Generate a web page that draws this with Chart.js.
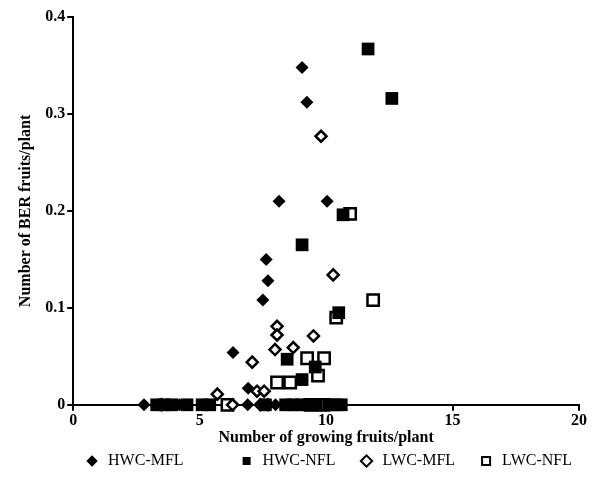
<!DOCTYPE html>
<html>
<head>
<meta charset="utf-8">
<script src="https://cdn.jsdelivr.net/npm/chart.js@4"></script>
<style>
    html, body { margin: 0; padding: 0; background: #fff; }
    #wrap { width: 598px; height: 479px; }
</style>
</head>
<body>
<div id="wrap"><canvas id="berChart"></canvas></div>
<script>
// growing fruits (x) vs BER fruits (y), per treatment
const hwcMflX = [2.8, 4.2, 6.9, 7.5, 8.0, 9.5, 9.05, 9.24, 8.14, 10.04, 7.63, 7.7, 7.5, 6.32, 6.92];
const hwcMflY = [0, 0, 0, 0, 0, 0, 0.348, 0.312, 0.210, 0.210, 0.150, 0.128, 0.108, 0.054, 0.017];

const hwcNflX = [3.3, 3.6, 3.9, 4.5, 5.1, 5.4, 7.6, 8.4, 8.7, 9.0, 9.3, 9.6, 10.1, 10.4, 10.6, 11.66, 12.6, 9.05, 10.67, 10.5, 8.46, 9.57, 9.05];
const hwcNflY = [0, 0, 0, 0, 0, 0, 0, 0, 0, 0, 0, 0, 0, 0, 0, 0.367, 0.316, 0.165, 0.196, 0.095, 0.047, 0.039, 0.026];

const lwcMflX = [3.5, 6.3, 7.4, 7.7, 9.8, 10.28, 8.06, 8.06, 9.5, 7.98, 8.7, 7.08, 5.7, 7.27, 7.55];
const lwcMflY = [0, 0, 0, 0, 0.277, 0.134, 0.081, 0.072, 0.071, 0.057, 0.059, 0.044, 0.011, 0.014, 0.014];

const lwcNflX = [6.1, 9.4, 9.9, 10.95, 11.86, 10.4, 8.06, 8.58, 9.25, 9.92, 9.68];
const lwcNflY = [0, 0, 0, 0.197, 0.108, 0.09, 0.023, 0.023, 0.048, 0.048, 0.030];

const xTicks = [0, 5, 10, 15, 20];
const yTicks = [0, 0.1, 0.2, 0.3, 0.4];

function toPoints(xs, ys) {
    return xs.map((x, i) => ({ x: x, y: ys[i] }));
}

const serif = "'Liberation Serif', 'DejaVu Serif', serif";

// extra gap after each legend entry (the first gap is wider in the original)
const legendGaps = ["\u2003\u2003\u2003", "\u2002\u2002", "\u2002\u2002", ""];

const ctx = document.getElementById("berChart");

new Chart(ctx, {
    type: "scatter",
    data: {
        datasets: [
            {
                label: "HWC-MFL",
                data: toPoints(hwcMflX, hwcMflY),
                pointStyle: "rectRot",
                pointRadius: 6.5,
                backgroundColor: "#000",
                borderColor: "#000",
                borderWidth: 0,
                clip: false
            },
            {
                label: "HWC-NFL",
                data: toPoints(hwcNflX, hwcNflY),
                pointStyle: "rect",
                pointRadius: 9,
                backgroundColor: "#000",
                borderColor: "#000",
                borderWidth: 0,
                clip: false
            },
            {
                label: "LWC-MFL",
                data: toPoints(lwcMflX, lwcMflY),
                pointStyle: "rectRot",
                pointRadius: 5.5,
                backgroundColor: "#fff",
                borderColor: "#000",
                borderWidth: 2.5,
                clip: false
            },
            {
                label: "LWC-NFL",
                data: toPoints(lwcNflX, lwcNflY),
                pointStyle: "rect",
                pointRadius: 8,
                backgroundColor: "#fff",
                borderColor: "#000",
                borderWidth: 2.5,
                clip: false
            }
        ]
    },
    options: {
        responsive: true,
        maintainAspectRatio: false,
        animation: false,
        layout: {
            padding: { top: 17, right: 19, left: 16, bottom: 0 }
        },
        plugins: {
            legend: {
                display: true,
                position: "bottom",
                align: "end",
                labels: {
                    usePointStyle: true,
                    boxHeight: 8,
                    color: "#000",
                    padding: 7,
                    font: { family: serif, size: 16 },
                    generateLabels: (chart) => {
                        const items = Chart.defaults.plugins.legend.labels.generateLabels(chart);
                        items.forEach((it, i) => {
                            it.lineWidth = Math.min(it.lineWidth, 2);
                            it.text = it.text + legendGaps[i];
                        });
                        return items;
                    }
                }
            },
            tooltip: { enabled: false }
        },
        scales: {
            x: {
                type: "linear",
                min: 0,
                max: 20,
                afterBuildTicks: (axis) => {
                    axis.ticks = xTicks.map(v => ({ value: v }));
                },
                ticks: {
                    color: "#000",
                    padding: 0,
                    font: { family: serif, size: 16, weight: "bold" }
                },
                grid: {
                    display: true,
                    drawOnChartArea: false,
                    drawTicks: true,
                    tickLength: 6,
                    color: "#000",
                    lineWidth: 2
                },
                border: { color: "#000", width: 2 },
                title: {
                    display: true,
                    text: "Number of growing fruits/plant",
                    color: "#000",
                    padding: { top: 0, bottom: 0 },
                    font: { family: serif, size: 16, weight: "bold", lineHeight: 1.0 }
                }
            },
            y: {
                type: "linear",
                min: 0,
                max: 0.4,
                afterBuildTicks: (axis) => {
                    axis.ticks = yTicks.map(v => ({ value: v }));
                },
                ticks: {
                    color: "#000",
                    padding: 2,
                    font: { family: serif, size: 16, weight: "bold" },
                    callback: (v) => v === 0 ? "0" : v.toFixed(1)
                },
                grid: {
                    display: true,
                    drawOnChartArea: false,
                    drawTicks: true,
                    tickLength: 6,
                    color: "#000",
                    lineWidth: 2
                },
                border: { color: "#000", width: 2 },
                title: {
                    display: true,
                    text: "Number of BER fruits/plant",
                    color: "#000",
                    padding: { top: 0, bottom: 8 },
                    font: { family: serif, size: 16, weight: "bold" }
                }
            }
        }
    }
});
</script>
</body>
</html>
